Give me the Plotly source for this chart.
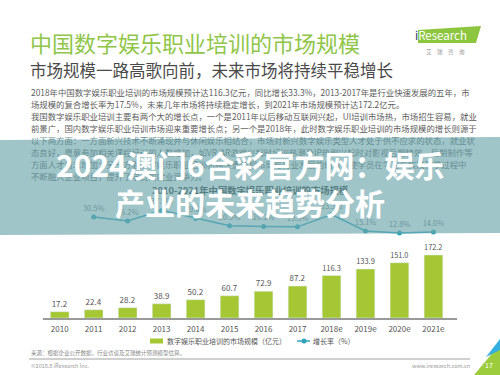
import plotly.graph_objects as go

W, H = 500, 375
FONT = "Noto Sans CJK SC"

# ---- data ----
years = ["2010", "2011", "2012", "2013", "2014", "2015", "2016", "2017",
         "2018e", "2019e", "2020e", "2021e"]
market_size = [17.2, 22.4, 28.2, 38.9, 50.2, 60.7, 72.9, 87.2, 116.3, 133.9, 151.0, 172.2]
growth_years = years[1:]
growth_rate = [30.5, 26.2, 37.9, 29.0, 20.9, 20.1, 19.6, 33.3, 15.1, 12.8, 14.0]

title = "中国数字娱乐职业培训的市场规模"
subtitle = "市场规模一路高歌向前，未来市场将持续平稳增长"
paragraph = [
    "2018年中国数字娱乐职业培训的市场规模预计达116.3亿元，同比增长33.3%，2013-2017年是行业快速发展的五年，市",
    "场规模的复合增长率为17.5%，未来几年市场将持续稳定增长，到2021年市场规模预计达172.2亿元。",
    "我国数字娱乐职业培训主要有两个大的增长点，一个是2011年以后移动互联网兴起，UI培训市场热，市场招生容易，就业",
    "前景广，国内数字娱乐职业培训市场迎来重要增长点；另一个是2018年，此时数字娱乐职业培训的市场规模的增长则源于",
    "以下两方面：一方面新兴技术不断涌现并与休闲娱乐相结合，市场对新兴数字娱乐类型人才处于供不应求的状态，就业状",
    "态良好，愿意参加相关课程培训的人数增加，如VR/AR游戏兴起时培训热潮及IP热剧兴起时对影视后期特效、后期制作等",
    "方面人才需求增加；另一方面数字娱乐职业培训机构注重课程布局与行业发展的结合，使学员在学习与实践教学过程中",
    "不断融入企业项目，提升了学员的就业竞争力。",
]
chart_title = "2010-2021年中国数字娱乐职业培训的市场规模"
legend_bar = "数字娱乐职业培训的市场规模（亿元）"
legend_line = "增长率（%）"
source = "来源：根据企业公开数据，行业访谈及艾瑞统计预测模型估算。"
copyright_txt = "©2018.8 iResearch Inc."
website = "www.iresearch.com.cn"
overlay_lines = ["2024澳门6合彩官方网：娱乐", "产业的未来趋势分析"]
page_no = "17"

BAR_C = "#a4c733"
LINE_C = "#2fa3b8"
GREEN_T = "#8fc649"


def px(x):
    return x / W


def py(y):
    return 1 - y / H


fig = go.Figure()
fig.add_trace(go.Bar(
    x=years, y=market_size, marker_color=BAR_C, width=0.55,
    texttemplate="%{y:.1f}", textposition="outside", cliponaxis=False,
    textfont=dict(size=8, color="#555", family=FONT), name=legend_bar,
    showlegend=False,
))
fig.add_trace(go.Scatter(
    x=growth_years, y=growth_rate, yaxis="y2", mode="lines+markers+text",
    text=[f"{v:.1f}%" for v in growth_rate], textposition="top center",
    textfont=dict(size=7.5, color="#777", family=FONT),
    line=dict(color=LINE_C, width=1.5), marker=dict(size=5, color=LINE_C),
    cliponaxis=False, name=legend_line, showlegend=False,
))

ann = []


def txt(x, y, s, size, color, anchor="left", **kw):
    ann.append(dict(x=px(x), y=py(y), xref="paper", yref="paper", text=s,
                    showarrow=False, xanchor=anchor, yanchor="middle",
                    font=dict(size=size, color=color, family=FONT), **kw))


txt(28, 42, title, 22, GREEN_T)
txt(28, 70, subtitle, 16.5, "#4a4a4a")
para_y = [92, 104, 116, 128, 140, 152, 164, 176]
for i, (line, y) in enumerate(zip(paragraph, para_y)):
    col = "#5c5c5c" if y < 138 else "#678d91"
    txt(29, y, line, 8.4, col)
txt(250, 190, "<b>" + chart_title + "</b>", 9.3, "#587e82", anchor="center")

# overlay band title (above band)
txt(250, 164, "<b>" + overlay_lines[0] + "</b>", 30, "white", anchor="center")
txt(250, 202, "<b>" + overlay_lines[1] + "</b>", 30, "white", anchor="center")

# legend
txt(165, 341, legend_bar, 7, "#555")
txt(311, 341, legend_line, 7, "#555")
# footer
txt(29, 353, source, 5.5, "#888")
txt(29, 366, copyright_txt, 5.5, "#999")
txt(472, 366, website, 5.5, "#999", anchor="right")
txt(489, 365, page_no, 7, "white", anchor="center")
# logo
txt(413, 35, "<span style='color:#1b3a6b'>i</span>Research", 11.5, "white")
txt(445, 52, "艾　瑞　咨　询", 5.5, "#999", anchor="center")

shapes = [
    # logo block
    dict(type="path", path=f"M {px(418)} {py(30)} L {px(481)} {py(26)} L {px(476)} {py(43)} L {px(418)} {py(43)} Z",
         xref="paper", yref="paper", fillcolor="#8cc63f", line=dict(width=0), layer="below"),
    # legend symbols
    dict(type="rect", xref="paper", yref="paper", x0=px(150), x1=px(163), y0=py(343.5), y1=py(338.5),
         fillcolor=BAR_C, line=dict(width=0)),
    dict(type="line", xref="paper", yref="paper", x0=px(297), x1=px(310), y0=py(341), y1=py(341),
         line=dict(color=LINE_C, width=1.5)),
    dict(type="circle", xref="paper", yref="paper", x0=px(301.5), x1=px(306.5), y0=py(343.5), y1=py(338.5),
         fillcolor=LINE_C, line=dict(width=0)),
    # footer rule
    dict(type="line", xref="paper", yref="paper", x0=px(29), x1=px(470), y0=py(359), y1=py(359),
         line=dict(color="#d0d0d0", width=2)),
    # corner triangles
    dict(type="path", path=f"M {px(474)} {py(375)} L {px(500)} {py(344)} L {px(500)} {py(375)} Z",
         xref="paper", yref="paper", fillcolor="#9ccc3c", line=dict(width=0)),
    dict(type="path", path=f"M {px(486)} {py(357)} L {px(500)} {py(339)} L {px(500)} {py(350)} Z",
         xref="paper", yref="paper", fillcolor="#35aee0", line=dict(width=0)),
    # translucent overlay band
    dict(type="path", path=f"M 0 {py(140)} L 1 {py(137)} L 1 {py(233)} L 0 {py(235)} Z",
         xref="paper", yref="paper", fillcolor="rgba(108,166,172,0.65)", line=dict(width=0), layer="above"),
]

fig.update_layout(
    width=W, height=H, autosize=False,
    margin=dict(l=0, r=0, t=0, b=0),
    paper_bgcolor="white", plot_bgcolor="rgba(0,0,0,0)",
    font=dict(family=FONT),
    xaxis=dict(domain=[42.7 / W, 457.3 / W], type="category", categoryorder="array",
               categoryarray=years, showgrid=False, showline=True, linecolor="#9a9a9a",
               linewidth=1.5, ticks="", tickfont=dict(size=8, color="#555", family=FONT),
               ticklabelstandoff=3, zeroline=False, fixedrange=True),
    yaxis=dict(domain=[py(318), py(244.8)], range=[0, 200], visible=False, fixedrange=True),
    yaxis2=dict(domain=[py(244.5), py(208.5)], range=[0, 40], visible=False, anchor="x",
                fixedrange=True),
    bargap=0.45,
    annotations=ann,
    shapes=shapes,
    showlegend=False,
)

fig.write_html(
    "out.html",
    config={"displayModeBar": False},
    post_script="document.body.style.margin='0';document.body.style.padding='0';"
                "document.documentElement.style.overflow='hidden';",
)
